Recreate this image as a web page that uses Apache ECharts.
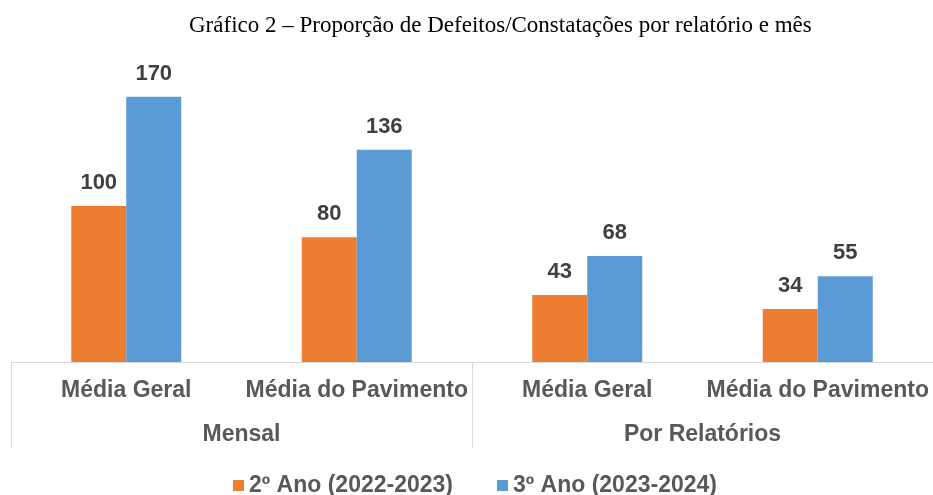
<!DOCTYPE html>
<html>
<head>
<meta charset="utf-8">
<script src="https://cdn.jsdelivr.net/npm/echarts@6/dist/echarts.min.js"></script>
<style>
  html, body { margin: 0; padding: 0; background: #fff; }
  #chart { width: 933px; height: 495px; }
</style>
</head>
<body>
<div id="chart"></div>
<script>
// Categories: inner labels and their outer groups
const categories = ['Média Geral', 'Média do Pavimento', 'Média Geral', 'Média do Pavimento'];
const groups = ['Mensal', 'Por Relatórios'];
const seriesNames = ['2º Ano (2022-2023)', '3º Ano (2023-2024)'];
const year2Values = [100, 80, 43, 34];
const year3Values = [170, 136, 68, 55];

const chart = echarts.init(document.getElementById('chart'), null, { renderer: 'canvas' });

const labelFont = 'Liberation Sans, Arial, sans-serif';

const option = {
  animation: false,
  title: {
    text: 'Gráfico 2 – Proporção de Defeitos/Constatações por relatório e mês',
    left: 184,
    top: 9,
    textStyle: {
      fontFamily: 'Liberation Serif, Times New Roman, serif',
      fontSize: 23,
      fontWeight: 'normal',
      color: '#000'
    }
  },
  legend: {
    data: seriesNames,
    top: 469,
    left: 228,
    icon: 'rect',
    itemWidth: 11,
    itemHeight: 11,
    itemGap: 44,
    textStyle: {
      fontFamily: labelFont,
      fontSize: 23,
      fontWeight: 'bold',
      color: '#595959'
    }
  },
  grid: { left: 11, right: 0, top: 50, bottom: 133 },
  xAxis: [
    {
      type: 'category',
      data: categories,
      position: 'bottom',
      axisLine: { show: true, lineStyle: { color: '#d9d9d9', width: 1 } },
      axisTick: { show: false },
      axisLabel: {
        interval: 0,
        margin: 17,
        fontFamily: labelFont,
        fontSize: 23,
        fontWeight: 'bold',
        color: '#595959'
      }
    },
    {
      type: 'category',
      data: groups,
      position: 'bottom',
      axisLine: { show: false },
      axisTick: {
        show: true,
        interval: 0,
        length: 86,
        lineStyle: { color: '#d9d9d9', width: 1 }
      },
      axisLabel: {
        interval: 0,
        margin: 61,
        fontFamily: labelFont,
        fontSize: 23,
        fontWeight: 'bold',
        color: '#595959'
      }
    }
  ],
  yAxis: {
    type: 'value',
    min: 0,
    max: 200,
    show: false,
    splitLine: { show: false }
  },
  series: [
    {
      name: seriesNames[0],
      type: 'bar',
      xAxisIndex: 0,
      data: year2Values,
      barWidth: 55,
      barGap: '0%',
      itemStyle: { color: '#ED7D31' },
      label: {
        show: true,
        position: 'top',
        distance: 12,
        fontFamily: labelFont,
        fontSize: 22,
        fontWeight: 'bold',
        color: '#404040'
      }
    },
    {
      name: seriesNames[1],
      type: 'bar',
      xAxisIndex: 0,
      data: year3Values,
      barWidth: 55,
      barGap: '0%',
      itemStyle: { color: '#5B9BD5' },
      label: {
        show: true,
        position: 'top',
        distance: 12,
        fontFamily: labelFont,
        fontSize: 22,
        fontWeight: 'bold',
        color: '#404040'
      }
    }
  ]
};

chart.setOption(option);
</script>
</body>
</html>
